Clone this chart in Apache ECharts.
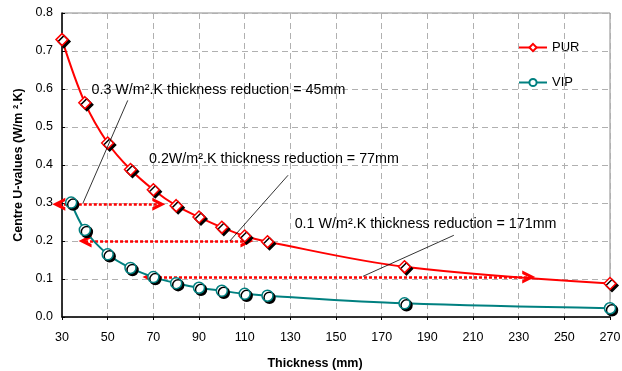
<!DOCTYPE html>
<html>
<head>
<meta charset="utf-8">
<script src="https://cdn.jsdelivr.net/npm/echarts@6/dist/echarts.min.js"></script>
<style>html,body{margin:0;padding:0;background:#fff}#c{width:622px;height:371px}</style>
</head>
<body>
<div id="c"></div>
<script>
// ---- data ----
var purThickness = [30, 40, 50, 60, 70, 80, 90, 100, 110, 120, 180, 270];
var purU = [0.730, 0.564, 0.458, 0.388, 0.335, 0.293, 0.263, 0.236, 0.213, 0.198, 0.132, 0.088];
var vipThickness = [34, 40, 50, 60, 70, 80, 90, 100, 110, 120, 180, 270];
var vipU = [0.301, 0.229, 0.165, 0.129, 0.105, 0.089, 0.077, 0.069, 0.061, 0.056, 0.036, 0.023];

var arrowU = [0.297, 0.200, 0.105];
var arrowFrom = [28.6, 40.1, 68.1];
var arrowTo = [72.4, 111.0, 234.4];

var noteText = [
  '0.3 W/m\u00B2.K thickness reduction = 45mm',
  '0.2W/m\u00B2.K thickness reduction = 77mm',
  '0.1 W/m\u00B2.K thickness reduction = 171mm'
];
var noteAt = [[42.9, 0.598], [68.1, 0.415], [131.9, 0.244]];
var leaderFrom = [[58.8, 0.570], [129.0, 0.373], [201.6, 0.215]];
var leaderTo = [[39.2, 0.300], [103.5, 0.200], [161.8, 0.107]];

// ---- chart ----
var FONT = '"Liberation Sans", Arial, sans-serif';
var chevron = 'path://M5,0 L10,8 L7.4,8 L5,4.2 L2.6,8 L0,8 Z';

function pairs(xs, ys) { return xs.map(function (x, i) { return [x, ys[i]]; }); }

var arrowLines = arrowU.map(function (u, i) {
  return { coords: [[arrowFrom[i], u], [arrowTo[i], u]] };
});
var leaderLines = leaderFrom.map(function (p, i) {
  return { coords: [p, leaderTo[i]] };
});
var notes = noteText.map(function (t, i) {
  return { coord: noteAt[i], value: t };
});

var chart = echarts.init(document.getElementById('c'), null, { renderer: 'canvas' });
chart.setOption({
  animation: false,
  backgroundColor: '#ffffff',
  textStyle: { fontFamily: FONT },
  grid: { left: 62, right: 12, top: 13, bottom: 54, show: true, borderColor: '#8a8a8a', borderWidth: 1, containLabel: false, outerBoundsMode: 'none' },
  legend: {
    orient: 'vertical', left: 513, top: 36, itemGap: 22, itemWidth: 28, itemHeight: 9,
    textStyle: { fontSize: 13, color: '#000', fontFamily: FONT },
    data: ['PUR', 'VIP']
  },
  xAxis: {
    type: 'value', min: 30, max: 270, interval: 20,
    name: 'Thickness (mm)', nameLocation: 'middle', nameGap: 40,
    nameTextStyle: { fontSize: 12.5, fontWeight: 'bold', color: '#000', padding: [0, 42, 0, 0] },
    axisLine: { lineStyle: { color: '#000', width: 1.5 } },
    axisTick: { show: true, length: 3, lineStyle: { color: '#000' } },
    axisLabel: { fontSize: 12.5, color: '#000', margin: 14 },
    splitLine: { show: true, lineStyle: { color: '#b0b0b0', type: [6, 4], width: 1 } }
  },
  yAxis: {
    type: 'value', min: 0, max: 0.8, interval: 0.1,
    name: 'Centre U-values (W/m \u00B2.K)', nameLocation: 'middle', nameGap: 37,
    nameTextStyle: { fontSize: 12.5, fontWeight: 'bold', color: '#000' },
    axisLine: { show: true, lineStyle: { color: '#000', width: 1.5 } },
    axisTick: { show: true, length: 3, inside: true, lineStyle: { color: '#000' } },
    axisLabel: { fontSize: 12.5, color: '#000', margin: 9, formatter: function (v) { return v.toFixed(1); } },
    splitLine: { show: true, lineStyle: { color: '#b0b0b0', type: [6, 4], width: 1 } }
  },
  series: [
    {
      name: 'PUR', type: 'line', smooth: 0.35, z: 5,
      data: pairs(purThickness, purU),
      symbol: 'diamond', symbolSize: 12, showAllSymbol: true,
      lineStyle: { color: '#ff0000', width: 2 },
      itemStyle: { color: '#ffffff', borderColor: '#ff0000', borderWidth: 1.5, shadowColor: '#000', shadowOffsetX: 2, shadowOffsetY: 2, shadowBlur: 0 }
    },
    {
      name: 'VIP', type: 'line', smooth: 0.35, z: 5,
      data: pairs(vipThickness, vipU),
      symbol: 'circle', symbolSize: 11, showAllSymbol: true,
      lineStyle: { color: '#008080', width: 2 },
      itemStyle: { color: '#ffffff', borderColor: '#008080', borderWidth: 1.5, shadowColor: '#000', shadowOffsetX: 2, shadowOffsetY: 2, shadowBlur: 0 }
    },
    {
      name: 'arrows', type: 'lines', coordinateSystem: 'cartesian2d', z: 4,
      clip: false, silent: true,
      symbol: [chevron, chevron], symbolSize: 13,
      lineStyle: { color: '#ff0000', type: [3, 2], width: 2.5, opacity: 1 },
      data: arrowLines
    },
    {
      name: 'leaders', type: 'lines', coordinateSystem: 'cartesian2d', z: 6,
      clip: false, silent: true, symbol: ['none', 'none'],
      lineStyle: { color: '#000', type: 'solid', width: 0.8, opacity: 1 },
      data: leaderLines
    },
    {
      name: 'notes', type: 'line', data: [], z: 6,
      markPoint: {
        silent: true, animation: false, symbol: 'circle', symbolSize: 0,
        label: {
          show: true, position: 'right', distance: 0, color: '#000', fontSize: 14.3, fontFamily: FONT,
          formatter: function (p) { return p.value; }
        },
        data: notes
      }
    }
  ]
});
</script>
</body>
</html>
